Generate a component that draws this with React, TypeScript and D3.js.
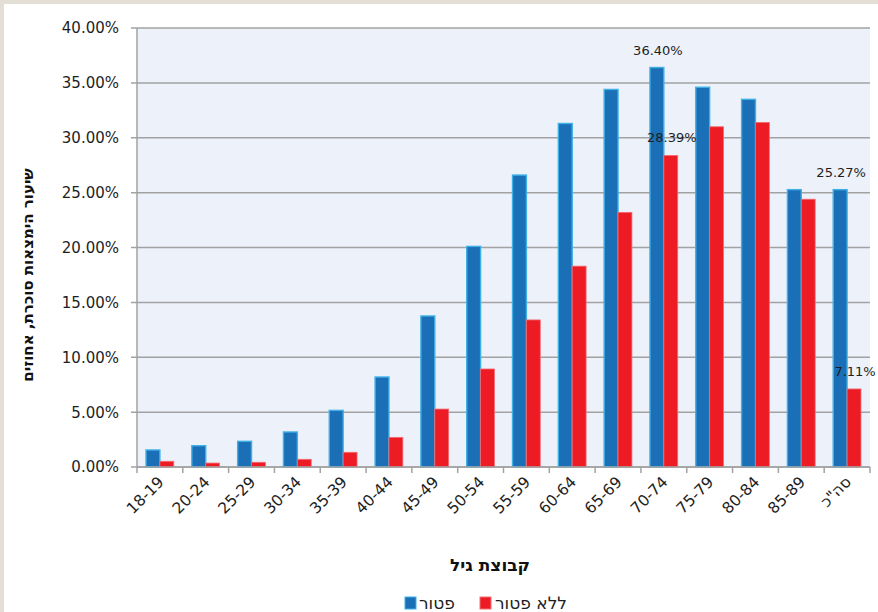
import React from "react";
import * as d3 from "d3";

const categories = ["18-19", "20-24", "25-29", "30-34", "35-39", "40-44", "45-49", "50-54", "55-59", "60-64", "65-69", "70-74", "75-79", "80-84", "85-89", "סה\"כ"];
const exemptValues = [1.55, 1.94, 2.34, 3.19, 5.16, 8.2, 13.76, 20.1, 26.6, 31.3, 34.4, 36.4, 34.6, 33.5, 25.27, 25.27];
const nonExemptValues = [0.52, 0.36, 0.43, 0.7, 1.34, 2.7, 5.28, 8.93, 13.4, 18.3, 23.2, 28.39, 31.0, 31.4, 24.4, 7.11];
const seriesNames = ["פטור", "ללא פטור"];
const yTicks = [0, 5, 10, 15, 20, 25, 30, 35, 40];
// Values that carry a printed label: [series index, category index]
const labelled: [number, number][] = [[0, 11], [1, 11], [0, 15], [1, 15]];

const W = 878;
const H = 612;
const margin = { left: 137, right: 8, top: 28, bottom: 145 };
const FONT = "'DejaVu Sans', Verdana, sans-serif";
const fills = ["#1b6fb6", "#ed1c24"];
const strokes = ["#3fb0e6", "#f36c72"];

export default function App() {
  const x0 = d3.scaleBand<string>().domain(categories).range([margin.left, W - margin.right]).padding(0);
  const bw = x0.bandwidth();
  const x1 = d3.scaleBand<string>().domain(seriesNames).range([bw * 0.197, bw * 0.803]).padding(0);
  const y = d3.scaleLinear().domain([0, 40]).range([H - margin.bottom, margin.top]);
  const series = [exemptValues, nonExemptValues];
  const fmt = (v: number) => v.toFixed(2) + "%";
  const plotRight = W - margin.right;
  const y0 = y(0);

  return (
    <svg width={W} height={H} style={{ position: "fixed", left: 0, top: 0 }} fontFamily={FONT}>
      <rect x={0} y={0} width={W} height={H} fill="#e3ded6" />
      <rect x={4} y={4} width={W - 4} height={H - 4} fill="#ffffff" />
      <rect x={margin.left} y={margin.top} width={plotRight - margin.left} height={y0 - margin.top} fill="#edf1f9" />

      {/* gridlines and y ticks */}
      {yTicks.map((t) => (
        <g key={t}>
          <line x1={margin.left - 6} x2={plotRight} y1={y(t)} y2={y(t)} stroke="#a2a2a2" strokeWidth={1.5} />
          <text x={119} y={y(t)} dy="0.36em" textAnchor="end" fontSize={15} fill="#1e1e1e">
            {fmt(t)}
          </text>
        </g>
      ))}
      <line x1={margin.left} x2={margin.left} y1={margin.top} y2={y0} stroke="#a2a2a2" strokeWidth={1.5} />

      {/* bars */}
      {categories.map((c, i) => (
        <g key={c}>
          {series.map((vals, s) => (
            <rect
              key={s}
              x={(x0(c) as number) + (x1(seriesNames[s]) as number)}
              y={y(vals[i])}
              width={x1.bandwidth()}
              height={y0 - y(vals[i])}
              fill={fills[s]}
              stroke={strokes[s]}
              strokeWidth={s === 0 ? 1.4 : 0.8}
            />
          ))}
        </g>
      ))}

      {/* x axis */}
      <line x1={margin.left} x2={plotRight} y1={y0} y2={y0} stroke="#a2a2a2" strokeWidth={1.5} />
      {d3.range(categories.length + 1).map((k) => {
        const xx = margin.left + k * bw;
        return <line key={k} x1={xx} x2={xx} y1={y0} y2={y0 + 6} stroke="#a2a2a2" strokeWidth={1.5} />;
      })}
      {categories.map((c) => {
        const cx = (x0(c) as number) + bw / 2 + 1;
        const cy = y0 + 12;
        return (
          <text
            key={c}
            x={cx}
            y={cy}
            transform={`rotate(-45 ${cx} ${cy})`}
            textAnchor="end"
            dy="0.36em"
            fontSize={15.5}
            fill="#1e1e1e"
          >
            {c}
          </text>
        );
      })}

      {/* value labels */}
      {labelled.map(([s, i]) => {
        const c = categories[i];
        const v = series[s][i];
        const cx = (x0(c) as number) + (x1(seriesNames[s]) as number) + x1.bandwidth() / 2;
        return (
          <text key={`${s}-${i}`} x={cx + 1} y={y(v) - 13} textAnchor="middle" fontSize={13} fill="#1e1e1e">
            {fmt(v)}
          </text>
        );
      })}

      {/* axis titles */}
      <text
        x={33}
        y={275}
        transform="rotate(-90 33 275)"
        textAnchor="middle"
        fontSize={15}
        fontWeight="bold"
        fill="#111"
      >
        שיעור הימצאות סוכרת, אחוזים
      </text>
      <text x={490} y={571} textAnchor="middle" fontSize={17} fontWeight="bold" fill="#111">
        קבוצת גיל
      </text>

      {/* legend */}
      <g>
        <rect x={405} y={597} width={11} height={12} fill={fills[0]} stroke={strokes[0]} strokeWidth={1} />
        <text x={419} y={609} textAnchor="start" fontSize={17} fill="#1e1e1e">
          {seriesNames[0]}
        </text>
        <rect x={480} y={597} width={11} height={12} fill={fills[1]} stroke={strokes[1]} strokeWidth={1} />
        <text x={495} y={609} textAnchor="start" fontSize={17} fill="#1e1e1e">
          {seriesNames[1]}
        </text>
      </g>
    </svg>
  );
}
